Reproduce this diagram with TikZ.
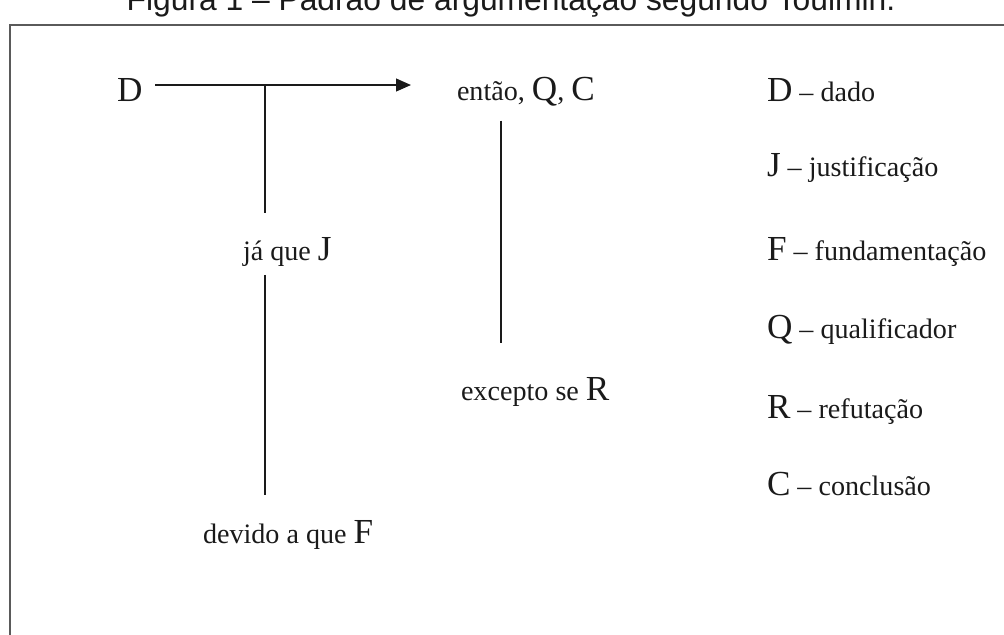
\documentclass[tikz,border=0pt]{standalone}
\usepackage{fontspec}
\setmainfont{Liberation Serif}
\newfontfamily\titlefont{Liberation Sans}
\usetikzlibrary{positioning, arrows.meta, calc}
\definecolor{frameGray}{HTML}{5A5A5A}
\definecolor{inkDark}{HTML}{1A1A1A}
\newcommand{\letra}[1]{{\fontsize{25}{30}\selectfont #1}}

\begin{document}
\begin{tikzpicture}[x=0.025cm, y=-0.025cm,
        every node/.style={inner sep=0pt, outer sep=0pt, text=inkDark,
                           font=\fontsize{20}{24}\selectfont},
        txt/.style={anchor=base west},
        link/.style={draw=inkDark, line width=1.1pt},
        arr/.style={link, -{Triangle[length=10.5pt, width=9pt]}},
        frame/.style={draw=frameGray, line width=1.5pt},
      ]
        \path[use as bounding box, clip] (0,0) rectangle (1004,634);

        % Caption, cut by the top edge
        \node[anchor=base, font=\titlefont\fontsize{22.6}{27}\selectfont] (title) at (511,10)
          {Figura 1 – Padrão de argumentação segundo Toulmin.};

        % Frame, open to the right and the bottom
        \draw[frame] (10,640) -- (10,25) -- (1010,25);

        % Toulmin scheme
        \node[txt] (D) at (117,101) {\letra{D}};
        \node[txt] (entao) at (457,100) {então, \letra{Q}, \letra{C}};
        \node[txt] (jaque) at (243,260) {já que \letra{J}};
        \node[txt] (excepto) at (461,400) {excepto se \letra{R}};
        \node[txt] (devido) at (203,543) {devido a que \letra{F}};

        \coordinate (tee) at (265,85);
        \draw[arr] ($(D.east |- tee)+(13,0)$) -- ($(entao.west |- tee)+(-46,0)$);
        \draw[link] (tee) -- ($(tee |- jaque.north)+(0,-24)$);
        \draw[link] ($(tee |- jaque.south)+(0,9)$) -- ($(tee |- devido.north)+(0,-25)$);
        \draw[link] ($(entao.south west)+(44,15)$) -- ($(entao.west |- excepto.north)+(44,-34)$);

        % Legend
        \node[txt] (legD) at (767,101) {\letra{D} – dado};
        \node[txt] (legJ) at (767,176) {\letra{J} – justificação};
        \node[txt] (legF) at (767,260) {\letra{F} – fundamentação};
        \node[txt] (legQ) at (767,338) {\letra{Q} – qualificador};
        \node[txt] (legR) at (767,418) {\letra{R} – refutação};
        \node[txt] (legC) at (767,495) {\letra{C} – conclusão};
      \end{tikzpicture}
\end{document}
